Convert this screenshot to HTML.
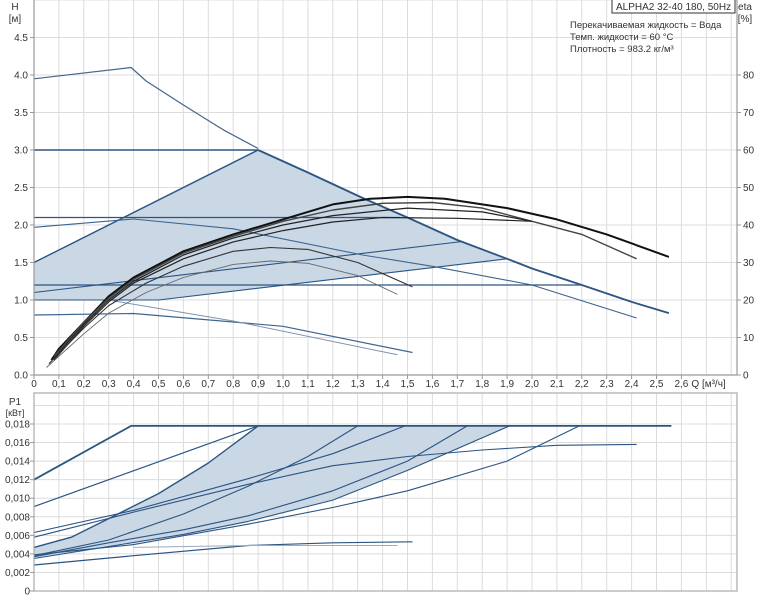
<!DOCTYPE html>
<html><head><meta charset="utf-8"><style>
body{margin:0;background:#fff;width:760px;height:600px;overflow:hidden;font-family:"Liberation Sans","DejaVu Sans",sans-serif}
svg text{font-family:"Liberation Sans","DejaVu Sans",sans-serif;fill:#333}
</style></head><body>
<svg id="chart" width="760" height="600" xmlns="http://www.w3.org/2000/svg"></svg>
<script>
// ---- data ----
const qTicks=[0,0.1,0.2,0.3,0.4,0.5,0.6,0.7,0.8,0.9,1.0,1.1,1.2,1.3,1.4,1.5,1.6,1.7,1.8,1.9,2.0,2.1,2.2,2.3,2.4,2.5,2.6];
const hTicks=[0,0.5,1.0,1.5,2.0,2.5,3.0,3.5,4.0,4.5];
const etaTicks=[0,10,20,30,40,50,60,70,80];
const pTicks=[0,0.002,0.004,0.006,0.008,0.010,0.012,0.014,0.016,0.018];
const hMax=[[0,3.95],[0.39,4.1],[0.45,3.92],[0.6,3.6],[0.76,3.27],[0.9,3.02]];
const hMaxLine=[[0.9,3.0],[1.1,2.7],[1.32,2.36],[1.5,2.1],[1.7,1.8],[1.9,1.55],[2.0,1.42],[2.2,1.2],[2.4,0.975],[2.55,0.825]];
const hConst3=[[0,3.0],[0.9,3.0]];
const hPropUp=[[0,1.5],[0.9,3.0]];
const hPropMid=[[0,1.1],[1.72,1.78]];
const hPropLow=[[0,1.0],[0.5,1.0],[1.9,1.55]];
const hConst21=[[0,2.1],[1.47,2.1]];
const hCurve2=[[0,1.97],[0.4,2.08],[0.8,1.95],[1.32,1.6],[1.6,1.45],[2.0,1.2],[2.42,0.76]];
const hConst12=[[0,1.2],[2.2,1.2]];
const hLow1=[[0,0.8],[0.4,0.82],[1.0,0.65],[1.52,0.3]];
const hLow2=[[0.3,1.0],[0.8,0.72],[1.46,0.27]];
const eta1=[[0.07,4],[0.1,7],[0.2,14],[0.3,21],[0.4,26],[0.6,33],[0.8,37.5],[0.9,39.5],[1.0,41.5],[1.2,45.5],[1.35,47],[1.5,47.5],[1.65,47],[1.9,44.5],[2.1,41.5],[2.3,37.5],[2.55,31.5]];
const eta2=[[0.08,5],[0.2,14],[0.3,20.5],[0.4,25.5],[0.6,32.5],[0.8,37],[1.0,41],[1.2,44],[1.4,45.8],[1.6,46],[1.8,44.5],[2.0,41],[2.2,37.5],[2.42,31]];
const eta3=[[0.08,4.5],[0.2,13.5],[0.3,20],[0.4,25],[0.6,32],[0.8,36.5],[1.0,40],[1.2,42.5],[1.5,44.5],[1.8,43.5],[2.0,41]];
const eta4=[[0.08,4],[0.2,13],[0.3,19.5],[0.4,24.5],[0.6,31],[0.8,35.5],[1.0,38.5],[1.2,40.8],[1.4,42],[1.7,41.8],[2.0,41]];
const eta5=[[0.06,3],[0.2,12.5],[0.3,18.5],[0.45,24.5],[0.6,29],[0.8,33],[0.95,34],[1.1,33.5],[1.3,30],[1.52,23.5]];
const eta6=[[0.05,2],[0.2,11],[0.3,16.5],[0.45,22],[0.6,26],[0.8,29.5],[0.95,30.4],[1.1,29.8],[1.3,26.5],[1.46,21.5]];
const pA=[[0,0.012],[0.39,0.0178],[2.56,0.0178]];
const pB=[[0,0.0091],[0.9,0.0178]];
const pC=[[0,0.0047],[0.15,0.0058],[0.3,0.0078],[0.5,0.0105],[0.7,0.0138],[0.9,0.0178]];
const pD=[[0,0.0063],[0.4,0.0087],[0.86,0.0121],[1.2,0.0148],[1.49,0.0178]];
const pE=[[0,0.0058],[0.4,0.0085],[0.86,0.0115],[1.2,0.0135],[1.5,0.0145],[1.8,0.0152],[2.1,0.0157],[2.42,0.0158]];
const pF=[[0,0.0038],[0.3,0.0055],[0.6,0.0083],[0.86,0.0113],[1.1,0.0145],[1.3,0.0178]];
const pG=[[0,0.0037],[0.3,0.0052],[0.6,0.0066],[0.86,0.0081],[1.2,0.0108],[1.5,0.014],[1.74,0.0178]];
const pH=[[0,0.0035],[0.3,0.0048],[0.6,0.0061],[0.86,0.0075],[1.2,0.0098],[1.5,0.013],[1.91,0.0178]];
const pI=[[0,0.0039],[0.4,0.005],[0.86,0.0072],[1.2,0.009],[1.5,0.0108],[1.9,0.014],[2.19,0.0178]];
const pJ=[[0,0.0028],[0.4,0.0038],[0.86,0.0049],[1.2,0.0052],[1.52,0.0053]];
const pK=[[0.4,0.0047],[0.86,0.0049],[1.46,0.0049]];

// ---- scales ----
const X0=34,XR=737,QS=249;
const X=q=>X0+q*QS;
const YH=h=>375-h*75;
const YE=e=>375-e*3.75;
const YP=p=>591-p*9278;
const svg=document.getElementById('chart');
const NS='http://www.w3.org/2000/svg';
function mk(tag,attrs,name){const e=document.createElementNS(NS,tag);for(const k in attrs)e.setAttribute(k,attrs[k]);


svg.appendChild(e);return e;}
function txt(x,y,s,anchor,name,size){const t=mk('text',{x:x,y:y,'text-anchor':anchor||'start','font-size':size||10},name);t.textContent=s;return t;}
function path(pts,fy,stroke,w,name,close){let d=pts.map((p,i)=>(i?'L':'M')+X(p[0]).toFixed(1)+','+fy(p[1]).toFixed(1)).join('');
return mk('path',{d:d,fill:'none',stroke:stroke,'stroke-width':w,'stroke-linejoin':'round'},name);}
function poly(pts,fy,fill,name){let d=pts.map((p,i)=>(i?'L':'M')+X(p[0]).toFixed(1)+','+fy(p[1]).toFixed(1)).join('')+'Z';
return mk('path',{d:d,fill:fill,stroke:'none'},name);}

// ---- top panel grid ----
for(let i=0;i<=28;i++){mk('line',{x1:X(i/10),x2:X(i/10),y1:0,y2:375,stroke:'#dcdcdc','stroke-width':1},'top-grid-v');}
for(let h=0.5;h<=5;h+=0.5){mk('line',{x1:X0,x2:XR,y1:YH(h),y2:YH(h),stroke:'#dcdcdc','stroke-width':1},'top-grid-h');}
// shaded area top
poly([[0,1.0],[0,1.5],[0.9,3.0],[1.1,2.7],[1.32,2.36],[1.5,2.1],[1.7,1.8],[1.9,1.55],[0.5,1.0]],YH,'#cad7e5','top-shaded-range');
const blue='#2b5582';
path(hMax,YH,'#46668c',1.2,'h-max-curve');
path(hMaxLine,YH,blue,1.8,'h-max-line');
path(hConst3,YH,blue,1.6,'h-const-3');
path(hPropUp,YH,blue,1.4,'h-prop-upper');
path(hPropMid,YH,blue,1.1,'h-prop-mid');
path(hPropLow,YH,blue,1.1,'h-prop-low');
path(hConst21,YH,blue,1.3,'h-const-2-1');
path(hCurve2,YH,'#3d6590',1.1,'h-curve-2');
path(hConst12,YH,blue,1.3,'h-const-1-2');
path(hLow1,YH,'#3d6590',1.2,'h-low-1');
path(hLow2,YH,'#7f93ab',1.0,'h-low-2');
path(eta1,YE,'#111',2,'eta-curve-1');
path(eta2,YE,'#444',1.4,'eta-curve-2');
path(eta3,YE,'#222',1.2,'eta-curve-3');
path(eta4,YE,'#222',1.2,'eta-curve-4');
path(eta5,YE,'#333',1.1,'eta-curve-5');
path(eta6,YE,'#666',0.9,'eta-curve-6');
// axes top
mk('line',{x1:X0,x2:X0,y1:0,y2:375,stroke:'#999','stroke-width':1.2},'h-axis');
mk('line',{x1:XR,x2:XR,y1:0,y2:375,stroke:'#999','stroke-width':1.2},'eta-axis');
mk('line',{x1:X0,x2:XR,y1:375,y2:375,stroke:'#999','stroke-width':1.2},'q-axis');
hTicks.forEach(h=>{mk('line',{x1:X0-4,x2:X0,y1:YH(h),y2:YH(h),stroke:'#999'},'h-tick');txt(X0-6,YH(h)+3.5,h.toFixed(1),'end','h-tick-label');});
etaTicks.forEach(e=>{mk('line',{x1:XR,x2:XR+4,y1:YE(e),y2:YE(e),stroke:'#999'},'eta-tick');txt(XR+6,YE(e)+3.5,String(e),'start','eta-tick-label');});
qTicks.forEach(q=>{mk('line',{x1:X(q),x2:X(q),y1:375,y2:379,stroke:'#999'},'q-tick');txt(X(q),387,q===0?'0':q.toFixed(1).replace('.',','),'middle','q-tick-label');});
txt(X(2.6)+10,387,'Q [м³/ч]','start','q-axis-title');
txt(15,10,'H','middle','h-axis-title');
txt(15,22,'[м]','middle','h-axis-unit');
txt(745,10,'eta','middle','eta-axis-title');
txt(745,22,'[%]','middle','eta-axis-unit');
mk('rect',{x:612,y:-1,width:123,height:14,fill:'#fff',stroke:'#333','stroke-width':1},'title-box');
txt(616,10,'ALPHA2 32-40 180, 50Hz','start','chart-title');
txt(570,28,'Перекачиваемая жидкость = Вода','start','fluid-label',9.5);
txt(570,40,'Темп. жидкости = 60 °C','start','temp-label',9.5);
txt(570,52,'Плотность = 983.2 кг/м³','start','density-label',9.5);

// ---- bottom panel ----
for(let i=0;i<=28;i++){mk('line',{x1:X(i/10),x2:X(i/10),y1:393,y2:591,stroke:'#dcdcdc','stroke-width':1},'bottom-grid-v');}
for(let k=1;k<=10;k++){const y=YP(k*0.002);mk('line',{x1:X0,x2:XR,y1:y,y2:y,stroke:'#dcdcdc','stroke-width':1},'bottom-grid-h');}
poly(pC.concat([[1.91,0.0178]]).concat(pH.slice().reverse()),YP,'#cad7e5','bottom-shaded-range');
[[pA,'p1-max',1.8],[pB,'p1-line-b',1.2],[pC,'p1-upper-bound',1.4],[pD,'p1-line-d',1.1],[pE,'p1-line-e',1.1],[pF,'p1-line-f',1.1],[pG,'p1-line-g',1.1],[pH,'p1-lower-bound',1.1],[pI,'p1-line-i',1.1],[pJ,'p1-line-j',1.2]].forEach(a=>path(a[0],YP,blue,a[2],a[1]));
path(pK,YP,'#9aabbf',1.0,'p1-line-k');
mk('rect',{x:X0,y:393,width:XR-X0,height:198,fill:'none',stroke:'#aaa','stroke-width':1.2},'bottom-frame');
pTicks.forEach(p=>{mk('line',{x1:X0-4,x2:X0,y1:YP(p),y2:YP(p),stroke:'#999'},'p1-tick');txt(X0-4,YP(p)+3.5,p===0?'0':p.toFixed(3).replace('.',','),'end','p1-tick-label');});
txt(15,405,'P1','middle','p1-axis-title');
txt(15,416,'[кВт]','middle','p1-axis-unit',9);
</script>
</body></html>
